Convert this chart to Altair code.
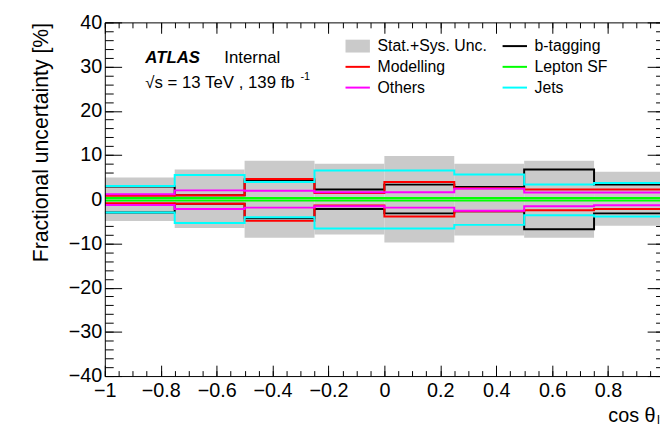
import altair as alt
import pandas as pd
import numpy as np

# ---------------- data ----------------
edges = [-1.0, -0.75, -0.5, -0.25, 0.0, 0.25, 0.5, 0.75, 1.0]
band_up = [4.9, 6.7, 8.7, 8.0, 9.8, 8.0, 8.7, 6.2]
band_dn = [-4.9, -6.5, -8.7, -8.0, -9.8, -8.2, -8.7, -6.0]
btag_up = [2.9, 0.9, 4.25, 2.2, 3.3, 2.75, 6.7, 3.3]
btag_dn = [-3.0, -1.0, -4.3, -2.2, -3.2, -2.7, -6.8, -3.2]
model_up = [0.8, 0.9, 4.6, 1.4, 3.9, 2.5, 2.2, 2.2]
model_dn = [-0.9, -1.0, -4.9, -1.4, -3.9, -2.7, -2.5, -2.2]
lep_up = [0.3, 0.3, 0.3, 0.3, 0.3, 0.3, 0.3, 0.3]
lep_dn = [-0.3, -0.3, -0.3, -0.3, -0.3, -0.3, -0.3, -0.3]
others_up = [1.1, 2.0, 1.9, 1.6, 1.6, 2.4, 1.5, 1.5]
others_dn = [-1.3, -2.2, -1.9, -1.6, -1.9, -2.6, -1.6, -1.35]
jets_up = [3.0, 5.5, 3.9, 6.5, 6.5, 5.6, 3.35, 3.65]
jets_dn = [-3.0, -5.4, -4.1, -6.6, -6.6, -5.8, -3.6, -3.9]

BAND = "Stat.+Sys. Unc."
BAND_COLOR = "#cacaca"
# legend entries in column order (first column, then second column)
line_labels = [" ", "Modelling", "Others", "b-tagging", "Lepton SF", "Jets"]
line_colors = ["transparent", "#ff0000", "#ff00ff", "#000000", "#00ff00", "#00ffff"]
series = [
    ("b-tagging", btag_up, btag_dn),
    ("Modelling", model_up, model_dn),
    ("Lepton SF", lep_up, lep_dn),
    ("Others", others_up, others_dn),
    ("Jets", jets_up, jets_dn),
]
x_major = [-1, -0.8, -0.6, -0.4, -0.2, 0, 0.2, 0.4, 0.6, 0.8]
y_major = [-40, -30, -20, -10, 0, 10, 20, 30, 40]

# ---------------- tables ----------------
band_df = pd.DataFrame({
    "x1": edges[:-1], "x2": edges[1:], "lo": band_dn, "hi": band_up,
    "src": [BAND] * (len(edges) - 1),
})
rows = []
k = 0
for name, up, dn in series:
    for side, vals in (("up", up), ("dn", dn)):
        for i, e in enumerate(edges):
            rows.append({"x": e, "v": vals[min(i, len(vals) - 1)], "src": name,
                         "side": name + side, "k": k})
            k += 1
line_df = pd.DataFrame(rows)

# ---------------- layout ----------------
W, H = 562, 358
X_MAX = -1 + 2 * W / 566.0
FONT = "Liberation Sans"
x_minor = [round(v, 3) for v in np.arange(-1.0, X_MAX, 0.05)]
y_minor = [int(v) for v in np.arange(-40, 41, 2)]

xs = alt.Scale(domain=[-1, X_MAX], nice=False, zero=False)
ys = alt.Scale(domain=[-40, 40], nice=False, zero=False)
minus = "replace(toString(datum.value), '-', '\u2212')"

ax_x_main = alt.Axis(values=x_major, labelExpr=minus, ticks=False, grid=False,
                     domain=True, domainColor="black", domainWidth=1,
                     labelFont=FONT, labelFontSize=20, labelColor="black",
                     labelPadding=5, labelFlush=False, labelOverlap=False,
                     title="cos \u03b8", titleFont=FONT, titleFontSize=20,
                     titleFontWeight="normal", titleColor="black",
                     titleAlign="right", titleBaseline="alphabetic",
                     titleX=557, titleY=46, zindex=1)
ax_y_main = alt.Axis(values=y_major, labelExpr=minus, ticks=False, grid=False,
                     domain=True, domainColor="black", domainWidth=1,
                     labelFont=FONT, labelFontSize=20, labelColor="black",
                     labelPadding=3, labelOverlap=False,
                     title="Fractional uncertainty [%]", titleFont=FONT,
                     titleFontSize=21.5, titleFontWeight="normal",
                     titleColor="black", titleAlign="right",
                     titleBaseline="alphabetic", titleAngle=270,
                     titleX=-58, titleY=0, zindex=1)


def tick_axis(orient, values, size, offset, domain=False):
    return alt.Axis(orient=orient, values=values, labels=False, grid=False,
                    domain=domain, domainColor="black", domainWidth=1,
                    ticks=True, tickSize=size, tickColor="black",
                    tickWidth=1, offset=offset, title="")


LEG_X, LEG_Y = 248, 16
band_legend = alt.Legend(
    title=None, orient="none", legendX=LEG_X, legendY=LEG_Y,
    symbolType="M-1.9,-1H1.9V1H-1.9Z", symbolSize=169, symbolStrokeWidth=0,
    symbolOpacity=1, labelFont=FONT, labelFontSize=16, labelColor="black",
    labelOffset=12, padding=0,
)
line_legend = alt.Legend(
    title=None, orient="none", legendX=LEG_X, legendY=LEG_Y, columns=2,
    symbolType="M-1.9,0H1.9", symbolSize=169, symbolStrokeWidth=2,
    labelFont=FONT, labelFontSize=16, labelColor="black", labelOffset=12,
    columnPadding=53, rowPadding=5, padding=0,
)

band = alt.Chart(band_df).mark_rect(clip=True, opacity=1).encode(
    x=alt.X("x1:Q", scale=xs, axis=ax_x_main),
    x2="x2:Q",
    y=alt.Y("lo:Q", scale=ys, axis=ax_y_main),
    y2="hi:Q",
    fill=alt.Fill("src:N", scale=alt.Scale(domain=[BAND], range=[BAND_COLOR]),
                  legend=band_legend),
)

lines = alt.Chart(line_df).mark_line(interpolate="step-after", strokeWidth=2,
                                     clip=True).encode(
    x=alt.X("x:Q", scale=xs, axis=tick_axis("top", x_major, 11, -H)),
    y=alt.Y("v:Q", scale=ys, axis=tick_axis("right", y_major, 17, -W)),
    stroke=alt.Stroke("src:N", scale=alt.Scale(domain=line_labels,
                                               range=line_colors),
                      legend=line_legend),
    detail="side:N",
    order="k:Q",
)


def carrier(xax, yax):
    return alt.Chart(band_df).mark_rect(opacity=0).encode(
        x=alt.X("x1:Q", scale=xs, axis=xax), x2="x2:Q",
        y=alt.Y("lo:Q", scale=ys, axis=yax), y2="hi:Q")


c_minor_in = carrier(tick_axis("top", x_minor, 5.5, -H),
                     tick_axis("right", y_minor, 8.5, -W))
c_major_out = carrier(tick_axis("bottom", x_major, 11, -H, domain=True),
                      tick_axis("left", y_major, 17, -566))
c_minor_out = carrier(tick_axis("bottom", x_minor, 5.5, -H),
                      tick_axis("left", y_minor, 8.5, -566))


def label(text, x, y, size, weight="normal", style="normal"):
    return alt.Chart(pd.DataFrame({"t": [text]})).mark_text(
        font=FONT, fontSize=size, fontWeight=weight, fontStyle=style,
        color="black", align="left", baseline="alphabetic").encode(
        x=alt.value(x), y=alt.value(y), text="t:N")


texts = [
    label("ATLAS", 41, 41, 17, weight="bold", style="italic"),
    label("Internal", 121, 41, 17),
    label("\u221as = 13 TeV , 139 fb", 41, 66, 17),
    label("-1", 198, 58, 11),
    label("l\u03bd", 559, H + 49, 13),
]

chart = alt.layer(band, lines, c_minor_in, c_major_out, c_minor_out, *texts)
chart = chart.resolve_axis(x="independent", y="independent").properties(
    width=W, height=H,
    autosize=alt.AutoSizeParams(type="none"),
    padding={"left": 98, "top": 12, "right": 0, "bottom": 49},
).configure_view(stroke="transparent")

chart.save("out.html", embed_options={"renderer": "svg", "actions": False})
